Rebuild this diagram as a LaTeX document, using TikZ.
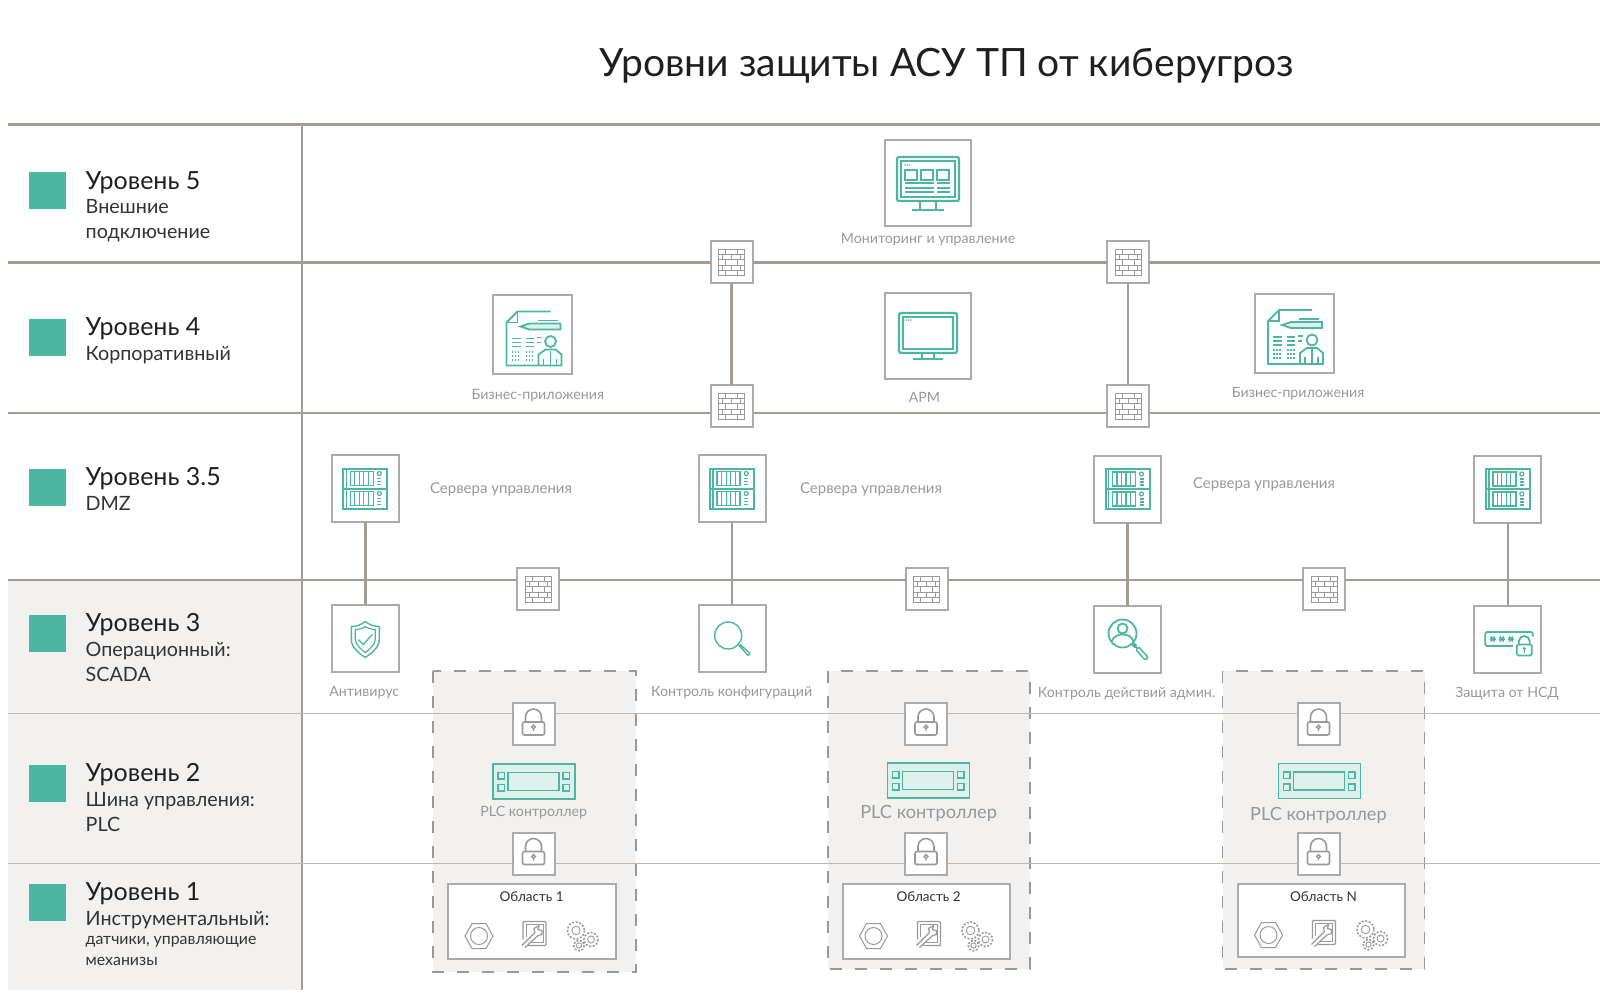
\documentclass[tikz,border=0pt]{standalone}
\usepackage{fontspec}
\setmainfont{Lato}
\usetikzlibrary{positioning}
\definecolor{teal1}{HTML}{4DB6A0}
\definecolor{busgray}{HTML}{A39B94}
\definecolor{boxgray}{HTML}{ABABAB}
\definecolor{iconin}{HTML}{9A9A9A}
\definecolor{capgray}{HTML}{989898}
\definecolor{panel}{HTML}{F2F1F0}
\definecolor{plcfill}{HTML}{DDF0EB}
\tikzset{
  bus/.style = {draw=busgray, line width=2.4},
  thinbus/.style = {draw=busgray!70, line width=1},
  lvlmark/.style = {fill=teal1, minimum size=37, inner sep=0},
  iconbox/.style = {draw=boxgray, line width=2, fill=white, inner sep=0, outer sep=0},
  lvl/.style = {anchor=west, inner sep=0, text=black!88, font=\fontsize{25}{28}\selectfont},
  sublvl/.style = {anchor=west, inner sep=0, text=black!80, font=\fontsize{19.7}{24}\selectfont},
  tinylvl/.style = {anchor=west, inner sep=0, text=black!80, font=\fontsize{15.9}{19}\selectfont},
  captxt/.style = {inner sep=0, text=capgray, font=\fontsize{14.2}{18}\selectfont},
  srvcap/.style = {inner sep=0, text=capgray, font=\fontsize{15}{18}\selectfont},
  bigcap/.style = {inner sep=0, text=capgray, font=\fontsize{18.2}{22}\selectfont},
  areacap/.style = {inner sep=0, text=black!80, font=\fontsize{13.5}{18}\selectfont},
  areabox/.style = {fill=panel, draw=iconin, line width=1.6, dash pattern=on 12 off 13},
  inbox/.style = {draw=boxgray, line width=1.6, fill=white, inner sep=0},
  plcbox/.style = {fill=plcfill, draw=teal1, line width=1.6, minimum width=82, minimum height=35, inner sep=0},
  pics/bricks/.style = {code={
    \draw[iconin, line width=1] (-13,-13) rectangle (13,13);
    \foreach \y in {-8,-3,3,8} \draw[iconin, line width=1] (-13,\y) -- (13,\y);
    \foreach \x in {-6,6} {\draw[iconin, line width=1] (\x,-13) -- (\x,-8) (\x,-3) -- (\x,3) (\x,8) -- (\x,13);}
    \foreach \x in {-9,0,9} {\draw[iconin, line width=1] (\x,-8) -- (\x,-3) (\x,3) -- (\x,8);}
  }},
  pics/lockpic/.style = {code={
    \draw[iconin, line width=1.6, rounded corners=2] (-11,-2) rectangle (11,11);
    \draw[iconin, line width=1.6] (-8,-2) -- (-8,-7) arc (180:360:8) -- (8,-2);
    \draw[iconin, line width=1.4] (0,3) circle (1.8) (0,5) -- (0,7);
  }},
  pics/screenpic/.style = {code={
    \draw[teal1, line width=2.2, rounded corners=2] (-29,-23) rectangle (29,17);
    \draw[teal1, line width=1.8] (-25,-19) rectangle (25,13);
    \draw[teal1, line width=1.8] (-6,17) -- (-6,23) (6,17) -- (6,23);
    \draw[teal1, line width=2.2] (-15,23) -- (15,23);
    \foreach \x in {-22,-19.5,-17} \fill[teal1] (\x,-16) circle (.8);
  }},
  pics/dashpic/.style = {code={
    \draw[teal1, line width=2.2, rounded corners=2] (-31,-26) rectangle (31,18);
    \draw[teal1, line width=1.8] (-27,-22) rectangle (27,14);
    \draw[teal1, line width=1.8] (-8,18) -- (-8,26) (8,18) -- (8,26);
    \draw[teal1, line width=2.2] (-16,27) -- (16,27);
    \foreach \x in {-23,-20.5,-18} \fill[teal1] (\x,-18) circle (.8);
    \foreach \x in {-23,-7,9} \draw[teal1, line width=1.7] (\x,-13) rectangle ++(12,10);
    \foreach \y in {0,5,9} {\draw[teal1, line width=1.7] (-23,\y) -- (6,\y) (9,\y) -- (22,\y);}
  }},
  pics/bizpic/.style = {code={
    \draw[teal1, line width=1.8] (5,31) -- (-26,31) -- (-26,-12) -- (-15,-23) -- (18,-23);
    \draw[teal1, line width=1.8] (-26,-12) -- (-15,-12) -- (-15,-23);
    \draw[teal1, line width=1.8] (5,-14) -- (25,-14);
    \draw[teal1, line width=1.8, fill=plcfill] (-12,-8) -- (-3,-11) -- (28,-11) -- (28,-5) -- (-3,-5) -- cycle;
    \foreach \y in {4,8,12} {\draw[teal1, line width=1.8] (-21,\y) -- (-12,\y) (-7,\y) -- (1,\y);}
    \draw[teal1, line width=1.8] (4,3) -- (9,3) (4,8) -- (8,8);
    \foreach \y in {17,21,25} {\draw[teal1, line width=2, dash pattern=on 1.5 off 1.5] (-21,\y) -- (-12,\y) (-7,\y) -- (2,\y);}
    \draw[teal1, line width=1.8] (18,7) circle (5.5);
    \draw[teal1, line width=1.8] (6,31) -- (6,20) -- (13,15) -- (23,15) -- (29,20) -- (29,31) -- cycle;
    \draw[teal1, line width=1.8] (11,31) -- (11,24) (24,31) -- (24,24) (18,16) -- (18,31);
  }},
  pics/serverpic/.style = {code={
    \foreach \y in {-20,0} {
      \draw[teal1, line width=2] (-22,\y) rectangle (22,\y+20);
      \draw[teal1, line width=1.6] (-19,\y) -- (-19,\y+20);
      \draw[teal1, line width=1.5] (-15,\y+3) rectangle (8,\y+17);
      \foreach \x in {-10.5,-6,-1.5,3} \draw[teal1, line width=1.3] (\x,\y+3) -- (\x,\y+17);
      \draw[teal1, line width=1.2] (14,\y+5) circle (2);
      \foreach \k in {10,13,16} \draw[teal1, line width=1.1] (12,\y+\k) -- (16,\y+\k);
    }
  }},
  pics/shieldpic/.style = {code={
    \draw[teal1, line width=1.4] (0,-17) .. controls (-5,-13) and (-10,-12) .. (-14,-12) -- (-14,1) .. controls (-14,9) and (-6,15) .. (0,19) .. controls (6,15) and (14,9) .. (14,1) -- (14,-12) .. controls (10,-12) and (5,-13) .. (0,-17) -- cycle;
    \draw[teal1, line width=1.2] (0,-12) .. controls (-3,-10) and (-7,-9) .. (-10,-9) -- (-10,1) .. controls (-10,6) and (-4,11) .. (0,14) .. controls (4,11) and (10,6) .. (10,1) -- (10,-9) .. controls (7,-9) and (3,-10) .. (0,-12) -- cycle;
    \draw[teal1, line width=1.3] (-7,1) -- (-2,6) -- (7,-4);
  }},
  pics/searchpic/.style = {code={
    \draw[teal1, line width=1.4] (-4,-3) circle (13.5);
    \draw[teal1, line width=1.4] (6,6) -- (16,17) (8,6) -- (18,15) (16,17) -- (18,15);
  }},
  pics/adminpic/.style = {code={
    \draw[teal1, line width=1.8] (-5,-6) circle (14);
    \draw[teal1, line width=1.8] (-5,-11) circle (5);
    \draw[teal1, line width=1.8] (-16,2) .. controls (-14,-4) and (-8,-5) .. (-5,-5) .. controls (-1,-5) and (4,-4) .. (6,2);
    \draw[teal1, line width=3.6, line cap=round] (6,5) -- (8,7);
    \draw[teal1, line width=5.5, line cap=round] (11,10) -- (18,18);
    \draw[white, line width=2.2, line cap=round] (11,10) -- (18,18);
  }},
  pics/nsdpic/.style = {code={
    \draw[teal1, line width=1.8, rounded corners=2] (5,6.5) -- (-22.5,6.5) -- (-22.5,-7.5) -- (25,-7.5) -- (25,-3);
    \foreach \x in {-15,-6,3} {\draw[teal1, line width=1.5] (\x-3,-.5) -- (\x+3,-.5) (\x-2,-3) -- (\x+2,2) (\x+2,-3) -- (\x-2,2);}
    \draw[teal1, line width=1.8, rounded corners=1.5, fill=white] (9,5) rectangle (24,16);
    \draw[teal1, line width=1.8] (11,5) -- (11,2) arc (180:360:5.5) -- (22,5);
    \fill[teal1] (16.5,9) circle (1.8);
    \draw[teal1, line width=1.3] (16.5,9) -- (16.5,13);
  }},
  pics/plcpic/.style = {code={
    \draw[teal1, line width=1.5] (-26,-9) rectangle (25,9);
    \foreach \x in {-36,29} {\draw[teal1, line width=1.3] (\x,-9) rectangle ++(6.5,6.5) (\x,3) rectangle ++(6.5,6.5);}
  }},
  pics/nutpic/.style = {code={
    \draw[iconin, line width=1] (-14,0) -- (-7,-12.5) -- (7,-12.5) -- (14,0) -- (7,12.5) -- (-7,12.5) -- cycle;
    \draw[iconin, line width=1] (0,0) circle (8.5);
  }},
  pics/wrenchpic/.style = {code={
    \draw[iconin, line width=1.2, rounded corners=1] (-11,6) -- (-11,-12) -- (12,-12) -- (12,12) -- (-6,12);
    \draw[iconin, line width=1] (-8,3) -- (-8,-9) -- (9,-9) -- (9,9) -- (-3,9);
    \draw[iconin, line width=1.2] (-12,12) -- (1,-1) (-9,14) -- (4,2);
    \draw[iconin, line width=1.2] (1,-1) -- (0,-5) -- (5,-8) -- (4,-4) -- (8,-3) -- (8,1) -- (4,2);
  }},
  pics/gearpic/.style = {code={
    \foreach \c/\r in {{(0,-3)/8.5},{(15,6)/7},{(3,12)/5.3}} {
      \draw[iconin, line width=1.6, dash pattern=on 2 off 1.6] \c circle (\r);
      \draw[iconin, line width=.9] \c circle (\r*.5);
    }
  }},
}
\begin{document}
\begin{tikzpicture}[x=1pt, y=-1pt]
\useasboundingbox (0,0) rectangle (1600,997);
% panels
\fill[panel] (8,580) rectangle (302,990);
\draw[areabox] (433,671) rectangle (636,972);
\draw[areabox] (828,671) rectangle (1030,969);
\draw[areabox] (1222.5,671) rectangle (1424.5,969);

\node[inner sep=0, text=black!88, font=\fontsize{39}{42}\selectfont] (title) at (946.5,66) {Уровни защиты АСУ ТП от киберугроз};

% free ends of the level lines
\coordinate (w5) at (8,124.5);
\coordinate (e5) at (1600,124.5);
\coordinate (w4) at (8,262.5);
\coordinate (e4) at (1600,262.5);
\coordinate (w35) at (8,413);
\coordinate (e35) at (1600,413);
\coordinate (w3) at (8,580);
\coordinate (e3) at (1600,580);
\coordinate (w2) at (8,713);
\coordinate (e2) at (1600,713);
\coordinate (w1) at (8,863);
\coordinate (e1) at (1600,863);
\coordinate (ntop) at (302,124.5);
\coordinate (nbot) at (302,990);

% firewalls
\node[iconbox, minimum size=42] (fwa) at (731.5,262) {};
\node[iconbox, minimum size=42] (fwb) at (1128,262) {};
\node[iconbox, minimum size=42] (fwc) at (731.5,406) {};
\node[iconbox, minimum size=42] (fwd) at (1128,406) {};
\node[iconbox, minimum size=42] (fwe) at (538,589) {};
\node[iconbox, minimum size=42] (fwf) at (926.5,589) {};
\node[iconbox, minimum size=42] (fwg) at (1324,589) {};
\foreach \n in {fwa,fwb,fwc,fwd,fwe,fwf,fwg} \pic at (\n) {bricks};

% locks
\node[iconbox, minimum size=42] (lka) at (533.5,724) {};
\node[iconbox, minimum size=42] (lkb) at (926,724) {};
\node[iconbox, minimum size=42] (lkc) at (1318.5,724) {};
\node[iconbox, minimum size=42] (lkd) at (533.5,853.5) {};
\node[iconbox, minimum size=42] (lke) at (926,853.5) {};
\node[iconbox, minimum size=42] (lkf) at (1318.5,853.5) {};
\foreach \n in {lka,lkb,lkc,lkd,lke,lkf} \pic at (\n) {lockpic};

\draw[bus] (w5) -- (e5);
\draw[bus] (w4) -- (w4 -| fwa.west) (w4 -| fwa.east) -- (w4 -| fwb.west) (w4 -| fwb.east) -- (e4);
\draw[bus] (w35) -- (w35 -| fwc.west) (w35 -| fwc.east) -- (w35 -| fwd.west) (w35 -| fwd.east) -- (e35);
\draw[bus] (w3) -- (w3 -| fwe.west) (w3 -| fwe.east) -- (w3 -| fwf.west) (w3 -| fwf.east) -- (w3 -| fwg.west) (w3 -| fwg.east) -- (e3);
\draw[bus] (fwa) -- (fwc);
\draw[bus] (fwb) -- (fwd);
\draw[bus] (ntop) -- (nbot);
\draw[thinbus] (w2) -- (w2 -| lka.west) (w2 -| lka.east) -- (w2 -| lkb.west) (w2 -| lkb.east) -- (w2 -| lkc.west) (w2 -| lkc.east) -- (e2);
\draw[thinbus] (w1) -- (w1 -| lkd.west) (w1 -| lkd.east) -- (w1 -| lke.west) (w1 -| lke.east) -- (w1 -| lkf.west) (w1 -| lkf.east) -- (e1);

% level 5 and 4
\node[iconbox, minimum size=86] (mon) at (928,183) {};
\pic at (mon) {dashpic};
\node[captxt, below=7pt of mon] (moncap) {Мониторинг и управление};
\node[iconbox, minimum size=86] (apm) at (928,336) {};
\pic at (apm) {screenpic};
\node[captxt] (apmcap) at (924.5,397) {АРМ};
\node[iconbox, minimum size=79] (biza) at (532.5,334.5) {};
\pic at (biza) {bizpic};
\node[captxt] (bizacap) at (537.8,396) {Бизнес-приложения};
\node[iconbox, minimum size=79] (bizb) at (1294,333) {};
\pic at (bizb) {bizpic};
\node[captxt] (bizbcap) at (1298,394) {Бизнес-приложения};

% level 3.5 and 3
\node[iconbox, minimum size=67] (srva) at (365.3,488.5) {};
\node[iconbox, minimum size=67] (srvb) at (732.2,488.5) {};
\node[iconbox, minimum size=67] (srvc) at (1127.5,489) {};
\node[iconbox, minimum size=67] (srvd) at (1507.8,489) {};
\foreach \n in {srva,srvb,srvc,srvd} \pic at (\n) {serverpic};
\node[srvcap] (srvacap) at (501,489) {Сервера управления};
\node[srvcap] (srvbcap) at (871,489) {Сервера управления};
\node[srvcap] (srvccap) at (1264,484) {Сервера управления};
\node[iconbox, minimum size=67] (avir) at (365.3,638.5) {};
\pic at (avir) {shieldpic};
\node[iconbox, minimum size=67] (conf) at (732.2,638.5) {};
\pic at (conf) {searchpic};
\node[iconbox, minimum size=67] (adm) at (1127.5,639.5) {};
\pic at (adm) {adminpic};
\node[iconbox, minimum size=67] (nsd) at (1507.8,639.5) {};
\pic at (nsd) {nsdpic};
\node[captxt] (avircap) at (364.3,693) {Антивирус};
\node[captxt] (confcap) at (731.6,693) {Контроль конфигураций};
\node[captxt] (admcap) at (1126.5,694) {Контроль действий админ.};
\node[captxt] (nsdcap) at (1507,694) {Защита от НСД};
\draw[bus] (srva) -- (avir);
\draw[bus] (srvb) -- (conf);
\draw[bus] (srvc) -- (adm);
\draw[bus] (srvd) -- (nsd);

% areas
\node[plcbox] (plca) at (534,781.5) {};
\node[plcbox] (plcb) at (928.6,780.5) {};
\node[plcbox] (plcc) at (1319.4,781) {};
\foreach \n in {plca,plcb,plcc} \pic at (\n) {plcpic};
\node[captxt] (plcacap) at (533.7,812.5) {PLC контроллер};
\node[bigcap] (plcbcap) at (928.6,813) {PLC контроллер};
\node[bigcap] (plcccap) at (1318.4,815) {PLC контроллер};
\node[inbox, minimum width=168, minimum height=75] (ara) at (532,921.5) {};
\node[inbox, minimum width=167, minimum height=75] (arb) at (926.5,921.5) {};
\node[inbox, minimum width=167, minimum height=73] (arc) at (1321.5,920.5) {};
\foreach \n in {ara,arb,arc} {
  \pic at ([shift={(-53,14.5)}]\n.center) {nutpic};
  \pic at ([shift={(2,12)}]\n.center) {wrenchpic};
  \pic at ([shift={(44,12)}]\n.center) {gearpic};
}
\node[areacap] (aracap) at (531.6,897) {Область 1};
\node[areacap] (arbcap) at (928.6,897) {Область 2};
\node[areacap] (arccap) at (1323.5,897) {Область N};

% level column
\node[lvlmark] (m5) at (47,190) {};
\node[lvlmark] (m4) at (47,337) {};
\node[lvlmark] (m35) at (47,487) {};
\node[lvlmark] (m3) at (47,633) {};
\node[lvlmark] (m2) at (47,783) {};
\node[lvlmark] (m1) at (47,902) {};
\node[lvl] (t5) at (85.5,183) {Уровень 5};
\node[sublvl] (s5a) at (85.5,207) {Внешние};
\node[sublvl] (s5b) at (85.5,235.5) {подключение};
\node[lvl] (t4) at (85.5,329) {Уровень 4};
\node[sublvl] (s4) at (85.5,355) {Корпоративный};
\node[lvl] (t35) at (85.5,479) {Уровень 3.5};
\node[sublvl] (s35) at (85.5,503) {DMZ};
\node[lvl] (t3) at (85.5,625) {Уровень 3};
\node[sublvl] (s3a) at (85.5,651) {Операционный:};
\node[sublvl] (s3b) at (85.5,674) {SCADA};
\node[lvl] (t2) at (85.5,775) {Уровень 2};
\node[sublvl] (s2a) at (85.5,801) {Шина управления:};
\node[sublvl] (s2b) at (85.5,824) {PLC};
\node[lvl] (t1) at (85.5,894) {Уровень 1};
\node[sublvl] (s1) at (85.5,920) {Инструментальный:};
\node[tinylvl] (s1a) at (85.5,942) {датчики, управляющие};
\node[tinylvl] (s1b) at (85.5,961) {механизы};
\end{tikzpicture}
\end{document}
